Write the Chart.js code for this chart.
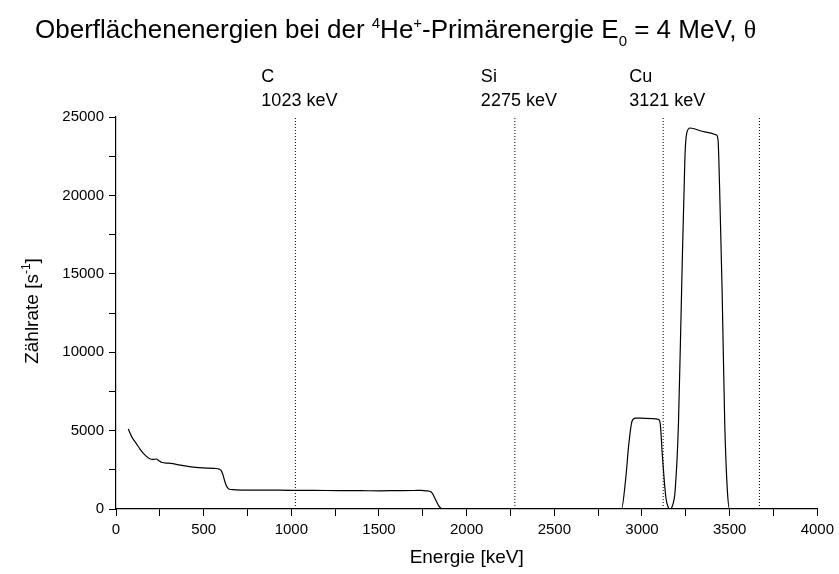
<!DOCTYPE html>
<html>
<head>
<meta charset="utf-8">
<script src="https://cdn.jsdelivr.net/npm/chart.js@4/dist/chart.umd.min.js"></script>
<style>
  body { margin: 0; background: #fff; }
  #box { width: 839px; height: 574px; }
</style>
</head>
<body>
<div id="box"><canvas id="spektrum" width="839" height="574"></canvas></div>
<script>
// RBS-Spektrum: Energie [keV] gegen Zaehlrate [1/s]
var energie = [70, 90, 117, 135, 155, 175, 193, 210, 230, 245, 259, 300, 344, 419, 495, 560, 589, 600, 608, 617,
    627, 637, 646, 670, 740, 835, 1000, 1200, 1400, 1500, 1600, 1700, 1741, 1770, 1798, 1812, 1826, 1840, 1855, 1870,
    2000, 2500, 2870, 2883, 2906, 2925, 2943, 2962, 3019, 3094, 3104, 3117, 3136, 3150, 3160, 3175, 3189, 3208, 3226,
    3245, 3255, 3274, 3358, 3425, 3434, 3443, 3457, 3472, 3487, 3500, 3550];
var zaehlrate = [5100, 4600, 4150, 3850, 3560, 3340, 3200, 3160, 3190, 3080, 2980, 2920, 2850, 2700, 2620, 2590, 2540, 2450, 2250, 1900,
    1550, 1350, 1260, 1230, 1200, 1210, 1190, 1180, 1170, 1160, 1170, 1180, 1190, 1160, 1080, 850, 520, 220, 30, 0,
    0, 0, 0, 0, 1800, 4150, 5600, 5800, 5780, 5720, 5450, 3300, 750, 100, 0, 250, 1170, 5430, 13950,
    22470, 23960, 24300, 24050, 23850, 23500, 20340, 13950, 5430, 1170, 0, 0];

// Oberflaechenenergien der Elemente (gepunktete Linien)
var elemente = ['C', 'Si', 'Cu', ''];
var kantenEnergie = [1023, 2275, 3121, 3670];

var xTicks = [0, 500, 1000, 1500, 2000, 2500, 3000, 3500, 4000];
var yTicks = [0, 5000, 10000, 15000, 20000, 25000];

var FONT = '"Liberation Sans", Arial, sans-serif';

let punkte = energie.map((e, i) => ({ x: e, y: zaehlrate[i] }));

let datasets = [{
    data: punkte,
    borderColor: '#000',
    borderWidth: 1.2,
    pointRadius: 0,
    cubicInterpolationMode: 'monotone',
    fill: false
}];
kantenEnergie.forEach((e) => {
    datasets.push({
        data: [{ x: e, y: 0 }, { x: e, y: yTicks[yTicks.length - 1] }],
        borderColor: '#000',
        borderWidth: 1,
        borderDash: [1, 2],
        pointRadius: 0,
        fill: false
    });
});

// Text mit Hoch-/Tiefstellung stueckweise zeichnen
function drawParts(ctx, parts, x, y) {
    parts.forEach((p) => {
        ctx.font = p.font;
        ctx.fillText(p.t, x, y + (p.dy || 0));
        x += ctx.measureText(p.t).width;
    });
}
function partsWidth(ctx, parts) {
    let w = 0;
    parts.forEach((p) => { ctx.font = p.font; w += ctx.measureText(p.t).width; });
    return w;
}

const beschriftung = {
    id: 'beschriftung',
    afterDraw(chart) {
        const ctx = chart.ctx;
        const xs = chart.scales.x;
        ctx.save();
        ctx.fillStyle = '#000';
        ctx.textBaseline = 'alphabetic';
        ctx.textAlign = 'left';

        // Titel
        const big = '26px ' + FONT, sm = '15px ' + FONT;
        const titel = [
            { t: 'Oberflächenenergien bei der ', font: big },
            { t: '4', font: sm, dy: -10 },
            { t: 'He', font: big },
            { t: '+', font: sm, dy: -10 },
            { t: '-Primärenergie E', font: big },
            { t: '0', font: sm, dy: 8 },
            { t: ' = 4 MeV, ', font: big },
            { t: 'θ', font: '26px "Liberation Serif", "Times New Roman", serif' }
        ];
        drawParts(ctx, titel, 35, 38);

        // Elementnamen ueber den Linien
        ctx.font = '18px ' + FONT;
        kantenEnergie.forEach((e, i) => {
            if (!elemente[i]) return;
            const px = xs.getPixelForValue(e);
            ctx.fillText(elemente[i], px - 34, 82);
            ctx.fillText(e + ' keV', px - 34, 106);
        });

        // Achsentitel x
        ctx.font = '19px ' + FONT;
        ctx.textAlign = 'center';
        ctx.fillText('Energie [keV]', (xs.left + xs.right) / 2, 563);

        // Achsentitel y (gedreht)
        ctx.textAlign = 'left';
        const yt = [
            { t: 'Zählrate [s', font: '19px ' + FONT },
            { t: '-1', font: '12px ' + FONT, dy: -8 },
            { t: ']', font: '19px ' + FONT }
        ];
        const w = partsWidth(ctx, yt);
        ctx.translate(38, 311);
        ctx.rotate(-Math.PI / 2);
        drawParts(ctx, yt, -w / 2, 0);
        ctx.restore();
    }
};

const chart = new Chart(document.getElementById('spektrum'), {
    type: 'line',
    data: { datasets: datasets },
    options: {
        responsive: false,
        animation: false,
        layout: { padding: { left: 0, top: 117, right: 17, bottom: 0 } },
        plugins: {
            legend: { display: false },
            tooltip: { enabled: false },
            title: { display: false }
        },
        scales: {
            x: {
                type: 'linear',
                min: xTicks[0],
                max: xTicks[xTicks.length - 1],
                afterFit: (s) => { s.height = 65; },
                ticks: {
                    stepSize: 250,
                    autoSkip: false,
                    maxRotation: 0,
                    padding: 5,
                    color: '#000',
                    font: { family: FONT, size: 15 },
                    callback: (v) => xTicks.includes(v) ? String(v) : ''
                },
                grid: { drawOnChartArea: false, tickLength: 7, tickColor: '#000', tickWidth: 1 },
                border: { color: '#000', width: 1.2 }
            },
            y: {
                min: yTicks[0],
                max: yTicks[yTicks.length - 1],
                afterFit: (s) => { s.width = 116; },
                ticks: {
                    stepSize: 2500,
                    autoSkip: false,
                    padding: 5,
                    color: '#000',
                    font: { family: FONT, size: 15 },
                    callback: (v) => yTicks.includes(v) ? String(v) : ''
                },
                grid: { drawOnChartArea: false, tickLength: 7, tickColor: '#000', tickWidth: 1 },
                border: { color: '#000', width: 1.2 }
            }
        }
    },
    plugins: [beschriftung]
});
</script>
</body>
</html>
